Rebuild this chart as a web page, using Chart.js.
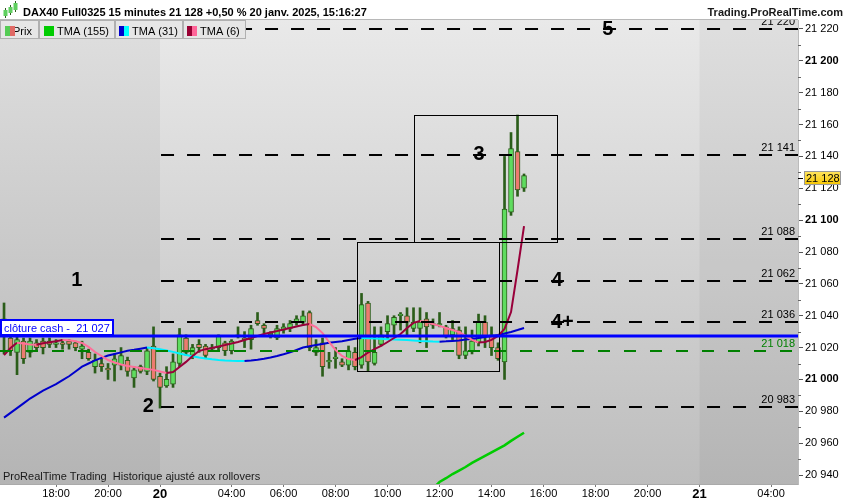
<!DOCTYPE html>
<html>
<head>
<meta charset="utf-8">
<title>DAX40 Full0325 15 minutes</title>
<script src="https://cdn.jsdelivr.net/npm/chart.js@4.4.1/dist/chart.umd.min.js"></script>
<style>
  html, body { margin: 0; padding: 0; background: #fff; }
  canvas { display: block; }
</style>
</head>
<body>
<canvas id="dax" width="850" height="500"></canvas>
<script>
const FONT = '"Liberation Sans", Arial, sans-serif';

// bougies 15 min, du 19 janv. 16:00 au 20 janv. 15:15 (index 0..80)
const opens = [
  21038, 21026, 21017, 21024, 21017, 21023, 21024, 21024, 21022, 21023,
  21024, 21023, 21019, 21017, 21008, 21010, 21007, 21009, 21009, 21012,
  21001, 21008, 21005, 21021, 21002, 20996, 20997, 21010, 21026, 21015,
  21022, 21021, 21019, 21020, 21023, 21018, 21027, 21026, 21025, 21037,
  21034, 21028, 21026, 21031, 21032, 21036, 21036, 21042, 21017, 21023,
  21011, 21013, 21011, 21009, 21017, 21009, 21048, 21010, 21022, 21030,
  21034, 21040, 21040, 21032, 21032, 21038, 21035, 21034, 21033, 21028,
  21031, 21015, 21018, 21023, 21036, 21028, 21020, 21011, 21105, 21143,
  21120
];
const highs = [
  21048, 21028, 21027, 21026, 21026, 21025, 21026, 21026, 21025, 21025,
  21025, 21024, 21024, 21019, 21016, 21013, 21010, 21016, 21020, 21014,
  21008, 21009, 21020, 21033, 21004, 21008, 21016, 21032, 21028, 21022,
  21025, 21022, 21022, 21028, 21024, 21025, 21033, 21030, 21034, 21042,
  21035, 21030, 21034, 21035, 21037, 21040, 21043, 21043, 21025, 21026,
  21017, 21020, 21013, 21021, 21020, 21054, 21049, 21033, 21033, 21040,
  21040, 21042, 21045, 21045, 21045, 21042, 21038, 21042, 21034, 21037,
  21033, 21033, 21031, 21041, 21040, 21033, 21023, 21140, 21155, 21166,
  21129
];
const lows = [
  21016, 21015, 21003, 21010, 21014, 21018, 21016, 21020, 21020, 21019,
  21019, 21018, 21013, 21012, 21004, 21005, 21000, 20999, 21006, 21002,
  20995, 21004, 21003, 20999, 20982, 20995, 20995, 21008, 21015, 21013,
  21017, 21013, 21018, 21018, 21015, 21016, 21026, 21020, 21019, 21034,
  21029, 21026, 21025, 21029, 21030, 21034, 21034, 21018, 21015, 21002,
  21007, 21007, 21008, 21006, 21006, 21007, 21005, 21009, 21021, 21025,
  21027, 21031, 21028, 21030, 21023, 21020, 21032, 21033, 21026, 21025,
  21013, 21013, 21016, 21021, 21020, 21015, 21012, 21000, 21103, 21115,
  21118
];
const closes = [
  21035, 21018, 21025, 21013, 21024, 21020, 21020, 21022, 21023, 21022,
  21022, 21020, 21021, 21013, 21012, 21008, 21006, 21013, 21015, 21005,
  21006, 21005, 21018, 21000, 20995, 21000, 21011, 21028, 21017, 21020,
  21020, 21015, 21020, 21027, 21018, 21024, 21028, 21025, 21032, 21035,
  21032, 21029, 21032, 21033, 21035, 21038, 21040, 21020, 21020, 21008,
  21012, 21014, 21009, 21018, 21008, 21047, 21011, 21017, 21028, 21035,
  21039, 21041, 21036, 21036, 21036, 21033, 21034, 21035, 21027, 21032,
  21015, 21018, 21024, 21036, 21027, 21020, 21013, 21107, 21145, 21119,
  21128
];

// moyennes TMA
const tma6 = [
  21015.3, 21019.7, 21023, 21022.5, 21022, 21021.8, 21022.7, 21023.4, 21024, 21024.8,
  21024.6, 21024, 21022.9, 21020.4, 21017.2, 21014.7, 21012.2, 21010.6, 21009.4, 21008.4,
  21007.8, 21007.2, 21006.6, 21006, 21005, 21004, 21004.7, 21007.8, 21011, 21014.7,
  21017.8, 21019, 21019.7, 21020.7, 21021.6, 21022.6, 21023.5, 21024.8, 21026, 21027.3,
  21028.5, 21029.5, 21030.4, 21031.4, 21032.3, 21033.2, 21034.2, 21034.8, 21032.9, 21029.1,
  21023.5, 21018.5, 21014.7, 21012.8, 21012.2, 21014, 21016.9, 21019, 21021, 21023.5,
  21026, 21028.5, 21032.3, 21035.5, 21036.7, 21036.1, 21034.8, 21033.6, 21032.3, 21031,
  21029.8, 21027.3, 21024.8, 21023.2, 21023.5, 21024.8, 21027.3, 21031.7, 21042.3, 21068.7,
  21096.3
];
const tma31 = [
  20976, 20979, 20982, 20985, 20988, 20990.5, 20993, 20995, 20997, 20999.5,
  21002, 21005, 21008, 21010, 21012, 21013.5, 21015, 21016, 21017, 21018,
  21018.6, 21019.3, 21020, 21019.6, 21019, 21018.2, 21017.3, 21016.3, 21015.3, 21014.5,
  21013.8, 21013.2, 21012.6, 21012.2, 21011.9, 21011.7, 21011.6, 21011.5, 21011.9, 21012.4,
  21013, 21013.8, 21014.7, 21015.8, 21017, 21018.5, 21020, 21020.8, 21021.6, 21022.3,
  21023, 21023.5, 21024, 21024.8, 21025.6, 21026, 21025.9, 21025.7, 21025.5, 21025.3,
  21025.1, 21024.9, 21024.7, 21024.5, 21024.2, 21024, 21023.8, 21023.7, 21023.9, 21024.2,
  21024.5, 21025, 21025.4, 21026, 21026.6, 21027.2, 21027.9, 21028.8, 21029.8, 21031,
  21032.3
];
// TMA(155) : seule la fin est visible en bas du graphique
const tma155Start = 63;
const tma155 = [
  20922, 20925, 20928, 20931.5, 20935.6, 20938, 20940.6, 20942.8, 20945, 20947.6,
  20949.8, 20952, 20954.2, 20956.4, 20958.6, 20961.4, 20964, 20966.5
];

// axes
const xTickIdx = [8, 16, 24, 35, 43, 51, 59, 67, 75, 83, 91, 99, 107, 118];
const xTickText = ['18:00', '20:00', '20', '04:00', '06:00', '08:00', '10:00', '12:00',
                   '14:00', '16:00', '18:00', '20:00', '21', '04:00'];
const yTicks = [20940, 20960, 20980, 21000, 21020, 21040, 21060, 21080,
                21100, 21120, 21140, 21160, 21180, 21200, 21220];
const dayBreaks = [24, 107];

// niveaux et annotations
const levels = [21220, 21141, 21088, 21062, 21036, 20983];
const supportLevel = 21018;
const cashClose = 21027;
const waveText = ['1', '2', '3', '4', '4+', '5'];
const waveIdx = [11.2, 22.2, 73.1, 85.1, 85.9, 92.9];
const waveLevel = [21062, 20983, 21141, 21062, 21036, 21220];
const boxIdx = [[54.3, 76.1], [63.1, 85.1]];
const boxRange = [[21005, 21086], [21086, 21166]];

const fmt = v => String(v).replace(/\B(?=(\d{3})+(?!\d))/g, ' ');
const lastClose = closes[closes.length - 1];

const idx = closes.map((_, i) => i);
const wickData = idx.map(i => ({ x: i, y: [lows[i], highs[i]] }));
const bodyData = idx.map(i => ({ x: i, y: [Math.min(opens[i], closes[i]), Math.max(opens[i], closes[i])] }));
const bodyColors = idx.map(i => closes[i] >= opens[i] ? '#5fdc5f' : '#ec7b6f');

const twoTone = (up, down) => ({
  borderColor: c => c.p1.parsed.y >= c.p0.parsed.y ? up : down
});

const prt = {
  id: 'prt',
  beforeDraw(chart) {
    const { ctx, chartArea: a, scales: { x } } = chart;
    ctx.save();
    ctx.fillStyle = '#fff';
    ctx.fillRect(0, 0, chart.width, chart.height);
    const g = ctx.createLinearGradient(0, a.top, 0, a.bottom);
    g.addColorStop(0, '#e9e9e9');
    g.addColorStop(1, '#bdbdbd');
    ctx.fillStyle = g;
    ctx.fillRect(a.left, a.top, a.right - a.left, a.bottom - a.top);
    const d0 = x.getPixelForValue(dayBreaks[0]);
    const d1 = x.getPixelForValue(dayBreaks[1]);
    ctx.fillStyle = 'rgba(0,0,0,0.045)';
    ctx.fillRect(a.left, a.top, d0 - a.left, a.bottom - a.top);
    ctx.fillRect(d1, a.top, a.right - d1, a.bottom - a.top);
    ctx.restore();
  },
  afterDatasetsDraw(chart) {
    const { ctx, chartArea: a, scales: { x, y } } = chart;
    ctx.save();
    ctx.beginPath();
    ctx.rect(a.left, a.top, a.right - a.left, a.bottom - a.top);
    ctx.clip();

    // niveaux pointillés noirs
    const x0 = x.getPixelForValue(dayBreaks[0]);
    ctx.font = '11px ' + FONT;
    ctx.textAlign = 'right';
    ctx.lineWidth = 2;
    levels.forEach(v => {
      const py = Math.round(y.getPixelForValue(v));
      ctx.strokeStyle = '#000';
      ctx.setLineDash([13, 13]);
      ctx.beginPath();
      ctx.moveTo(x0 + 1, py);
      ctx.lineTo(a.right, py);
      ctx.stroke();
      ctx.fillStyle = '#000';
      ctx.fillText(fmt(v), a.right - 3, py - 4);
    });

    // support vert
    const gy = Math.round(y.getPixelForValue(supportLevel));
    ctx.strokeStyle = '#008000';
    ctx.setLineDash([12, 14]);
    ctx.beginPath();
    ctx.moveTo(a.left, gy);
    ctx.lineTo(a.right, gy);
    ctx.stroke();
    ctx.fillStyle = '#008000';
    ctx.fillText(fmt(supportLevel), a.right - 3, gy - 4);
    ctx.setLineDash([]);

    // rectangles
    ctx.strokeStyle = '#000';
    ctx.lineWidth = 1;
    boxIdx.forEach((b, i) => {
      const l = Math.round(x.getPixelForValue(b[0])) + 0.5;
      const r = Math.round(x.getPixelForValue(b[1])) + 0.5;
      const t = Math.round(y.getPixelForValue(boxRange[i][1])) + 0.5;
      const btm = Math.round(y.getPixelForValue(boxRange[i][0])) + 0.5;
      ctx.strokeRect(l, t, r - l, btm - t);
    });

    // numéros de vagues
    ctx.font = 'bold 20px ' + FONT;
    ctx.textAlign = 'center';
    ctx.textBaseline = 'middle';
    ctx.fillStyle = '#000';
    waveText.forEach((t, i) => {
      ctx.fillText(t, x.getPixelForValue(waveIdx[i]), y.getPixelForValue(waveLevel[i]));
    });

    // clôture cash
    const by = Math.round(y.getPixelForValue(cashClose));
    ctx.strokeStyle = '#0000ff';
    ctx.lineWidth = 3;
    ctx.beginPath();
    ctx.moveTo(a.left, by);
    ctx.lineTo(a.right, by);
    ctx.stroke();
    ctx.fillStyle = '#fff';
    ctx.fillRect(1, by - 16, 112, 15);
    ctx.lineWidth = 2;
    ctx.strokeRect(1, by - 16, 112, 15);
    ctx.fillStyle = '#0000ff';
    ctx.font = '11px ' + FONT;
    ctx.textAlign = 'left';
    ctx.textBaseline = 'alphabetic';
    ctx.fillText('clôture cash -  ' + fmt(cashClose), 4, by - 4);

    ctx.fillStyle = '#1a1a1a';
    ctx.fillText('ProRealTime Trading  Historique ajusté aux rollovers', 3, a.bottom - 4);
    ctx.restore();
  },
  afterDraw(chart) {
    const { ctx, chartArea: a, scales: { y } } = chart;
    ctx.save();

    // en-tête
    ctx.fillStyle = '#fff';
    ctx.fillRect(0, 0, chart.width, a.top);
    ctx.strokeStyle = '#b8b8b8';
    ctx.lineWidth = 1;
    ctx.beginPath();
    ctx.moveTo(0, a.top - 0.5);
    ctx.lineTo(a.right, a.top - 0.5);
    ctx.stroke();
    [[5, 10, 16, 8, 18], [10, 7, 13, 5, 15], [15, 3, 10, 1, 12]].forEach(c => {
      ctx.fillStyle = '#2b5d1a';
      ctx.fillRect(c[0], c[3], 1, c[4] - c[3]);
      ctx.fillStyle = '#5fcf5f';
      ctx.fillRect(c[0] - 1.5, c[1], 4, c[2] - c[1]);
    });
    ctx.fillStyle = '#000';
    ctx.font = 'bold 11px ' + FONT;
    ctx.textAlign = 'left';
    ctx.fillText('DAX40 Full0325 15 minutes 21 128 +0,50 % 20 janv. 2025, 15:16:27', 23, 16);
    ctx.textAlign = 'right';
    ctx.fillStyle = '#1a1a1a';
    ctx.fillText('Trading.ProRealTime.com', 843, 16);

    // légende
    const items = [
      { l: 0, r: 39, tx: 13, text: 'Prix', ic: 5, c: ['#55cc55', '#e06a66'] },
      { l: 39, r: 115, tx: 57, text: 'TMA (155)', ic: 44, c: ['#00cc00', '#00cc00'] },
      { l: 115, r: 183, tx: 132, text: 'TMA (31)', ic: 119, c: ['#0000cc', '#00ffff'] },
      { l: 183, r: 246, tx: 200, text: 'TMA (6)', ic: 187, c: ['#990033', '#ff6699'] }
    ];
    ctx.font = '11px ' + FONT;
    ctx.textAlign = 'left';
    items.forEach(it => {
      ctx.fillStyle = '#e6e6e6';
      ctx.fillRect(it.l, 20, it.r - it.l, 19);
      ctx.strokeStyle = '#b0b0b0';
      ctx.strokeRect(it.l + 0.5, 20.5, it.r - it.l - 1, 18);
      ctx.fillStyle = '#000';
      ctx.fillText(it.text, it.tx, 35);
      ctx.fillStyle = it.c[0];
      ctx.fillRect(it.ic, 26, 5, 10);
      ctx.fillStyle = it.c[1];
      ctx.fillRect(it.ic + 5, 26, 5, 10);
    });

    // graduations secondaires
    ctx.strokeStyle = '#666';
    ctx.beginPath();
    yTicks.slice(0, -1).forEach(v => {
      const py = Math.round(y.getPixelForValue(v + 10)) + 0.5;
      ctx.moveTo(a.right, py);
      ctx.lineTo(a.right + 3, py);
    });
    ctx.stroke();

    // étiquette du dernier cours
    const py = Math.round(y.getPixelForValue(lastClose)) + 2;
    ctx.strokeStyle = '#000';
    ctx.beginPath();
    ctx.moveTo(a.right, py + 0.5);
    ctx.lineTo(a.right + 5, py + 0.5);
    ctx.stroke();
    const tg = ctx.createLinearGradient(0, py - 6, 0, py + 7);
    tg.addColorStop(0, '#ffe45c');
    tg.addColorStop(1, '#f5c400');
    ctx.fillStyle = tg;
    ctx.fillRect(a.right + 6, py - 6, 36, 13);
    ctx.strokeStyle = '#999';
    ctx.strokeRect(a.right + 6.5, py - 6.5, 36, 13);
    ctx.fillStyle = '#000';
    ctx.fillText(fmt(lastClose), a.right + 8, py + 4);
    ctx.restore();
  }
};

new Chart(document.getElementById('dax'), {
  type: 'bar',
  data: {
    datasets: [
      {
        type: 'line', label: 'TMA (155)', order: 3,
        data: tma155.map((v, i) => ({ x: tma155Start + i, y: v })),
        borderColor: '#00cc00', borderWidth: 2.5, pointRadius: 0
      },
      {
        type: 'line', label: 'TMA (31)', order: 2,
        data: idx.map(i => ({ x: i, y: tma31[i] })),
        borderColor: '#0000cc', segment: twoTone('#0000cc', '#00f0ff'),
        borderWidth: 2, pointRadius: 0
      },
      {
        type: 'line', label: 'TMA (6)', order: 1,
        data: idx.map(i => ({ x: i, y: tma6[i] })),
        borderColor: '#990033', segment: twoTone('#99003a', '#ff6f9a'),
        borderWidth: 2, pointRadius: 0
      },
      {
        label: 'Mèches', order: 5, data: wickData,
        backgroundColor: '#2b5d1a', barThickness: 2, grouped: false, borderWidth: 0
      },
      {
        label: 'Prix', order: 4, data: bodyData,
        backgroundColor: bodyColors, borderColor: '#2b5d1a', borderWidth: 1,
        borderSkipped: false, barThickness: 5, grouped: false
      }
    ]
  },
  options: {
    responsive: false,
    animation: false,
    events: [],
    layout: { padding: { top: 20, left: 0, right: 0, bottom: 0 } },
    plugins: { legend: { display: false }, tooltip: { enabled: false }, title: { display: false } },
    scales: {
      x: {
        type: 'linear', min: -0.62, max: 122.15, offset: false,
        afterBuildTicks: s => { s.ticks = xTickIdx.map(v => ({ value: v })); },
        afterFit: s => { s.height = 16; },
        ticks: {
          autoSkip: false, maxRotation: 0, padding: 0, color: '#000',
          callback: (v, i) => xTickText[i],
          font: c => {
            const big = (xTickText[c.index] || '').length === 2;
            return { family: FONT, size: big ? 13 : 11, weight: big ? 'bold' : 'normal' };
          }
        },
        grid: { drawOnChartArea: false, offset: false, tickLength: 3, color: '#777' },
        border: { color: '#aaa' }
      },
      y: {
        position: 'right', min: 20934.35, max: 21225.65, beginAtZero: false,
        afterBuildTicks: s => { s.ticks = yTicks.map(v => ({ value: v })); },
        afterFit: s => { s.width = 52; },
        ticks: {
          padding: 2, color: '#000',
          callback: v => fmt(v),
          font: c => ({ family: FONT, size: 11, weight: c.tick && c.tick.value % 100 === 0 ? 'bold' : 'normal' })
        },
        grid: { drawOnChartArea: false, tickLength: 5, color: '#555' },
        border: { color: '#bbb' }
      }
    }
  },
  plugins: [prt]
});
</script>
</body>
</html>
